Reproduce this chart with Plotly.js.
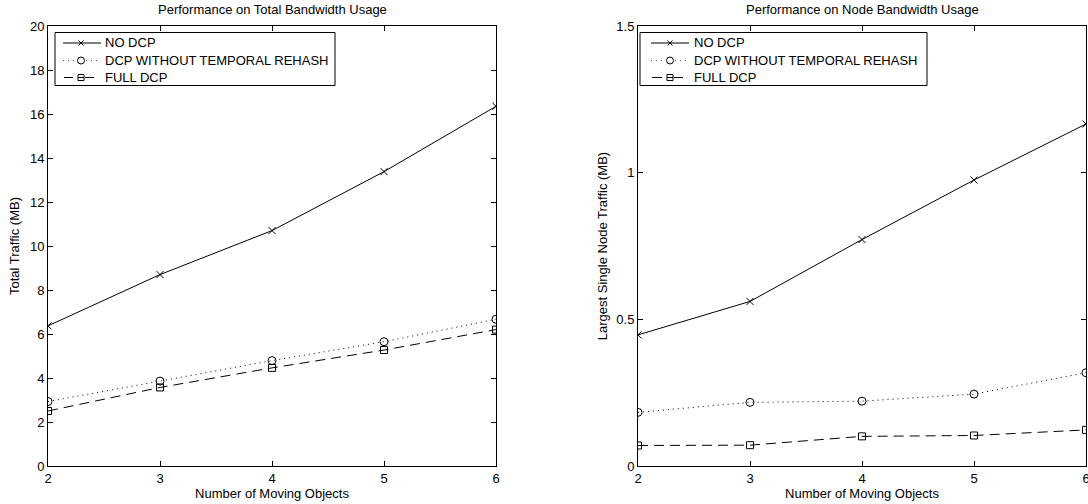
<!DOCTYPE html>
<html>
<head>
<meta charset="utf-8">
<script src="https://cdn.plot.ly/plotly-3.0.1.min.js"></script>
<style>html,body{margin:0;padding:0;background:#fff;}#chart{width:1088px;height:504px;}</style>
</head>
<body>
<div id="chart"></div>
<script>
const objects = [2, 3, 4, 5, 6];
const seriesNames = ["NO DCP", "DCP WITHOUT TEMPORAL REHASH", "FULL DCP"];
// Left: Total Traffic (MB)
const totalNoDcp = [6.37, 8.7, 10.7, 13.38, 16.35];
const totalNoRehash = [2.93, 3.86, 4.79, 5.65, 6.67];
const totalFullDcp = [2.5, 3.57, 4.46, 5.27, 6.2];
// Right: Largest Single Node Traffic (MB)
const nodeNoDcp = [0.447, 0.561, 0.772, 0.975, 1.166];
const nodeNoRehash = [0.183, 0.217, 0.221, 0.245, 0.318];
const nodeFullDcp = [0.070, 0.071, 0.101, 0.104, 0.123];
const leftTicks = [0, 2, 4, 6, 8, 10, 12, 14, 16, 18, 20];
const rightTicks = [0, 0.5, 1, 1.5];

const FONT = "Liberation Sans, Arial, Helvetica, sans-serif";
const FS = 13;
const W = 1088, H = 504, MT = 26, MB = 38;
const PH = H - MT - MB; // plot area height in px
const px = v => v / W;                 // pixel x -> paper x
const py = v => 1 - (v - MT) / PH;     // pixel y -> paper y
const styles = [
  {dash: "solid", symbol: "x-thin-open", size: 7},
  {dash: "1px,4px", symbol: "circle-open", size: 8},
  {dash: "10px,6px", symbol: "square-open", size: 7}
];
function mk(y, i, xa, ya) {
  return {
    x: objects, y: y, name: seriesNames[i], type: "scatter", mode: "lines+markers",
    xaxis: xa, yaxis: ya, showlegend: false,
    line: {color: "#000", width: 1, dash: styles[i].dash},
    marker: {symbol: styles[i].symbol, size: styles[i].size, color: "#000", line: {color: "#000", width: 1}}
  };
}
const data = [
  mk(totalNoDcp, 0, "x", "y"),
  mk(totalNoRehash, 1, "x", "y"),
  mk(totalFullDcp, 2, "x", "y"),
  mk(nodeNoDcp, 0, "x2", "y2"),
  mk(nodeNoRehash, 1, "x2", "y2"),
  mk(nodeFullDcp, 2, "x2", "y2")
];
const tf = {family: FONT, size: FS, color: "#000"};
const axBase = {
  showgrid: false, zeroline: false, showline: true, linecolor: "#000", linewidth: 1,
  mirror: "ticks", ticks: "inside", ticklen: 5, tickcolor: "#000", tickwidth: 1,
  ticklabeloverflow: "allow", tickfont: tf
};

// Hand-drawn legend boxes (MATLAB style)
const shapes = [];
const annotations = [];
function legendBox(left, right, top, bottom, lineX0, lineX1, markX, textX) {
  shapes.push({type: "rect", xref: "paper", yref: "paper", x0: px(left), x1: px(right), y0: py(bottom), y1: py(top),
    line: {color: "#000", width: 1}, fillcolor: "#fff", layer: "above"});
  const rows = [43, 60.5, 77.5];
  rows.forEach((ry, i) => {
    const yy = py(ry);
    if (i === 0) {
      shapes.push({type: "line", xref: "paper", yref: "paper", x0: px(lineX0), x1: px(lineX1), y0: yy, y1: yy,
        line: {color: "#000", width: 1}, layer: "above"});
      const d = 2.5;
      shapes.push({type: "path", xref: "paper", yref: "paper", layer: "above", line: {color: "#000", width: 1},
        path: `M ${px(markX - d)} ${py(ry - d)} L ${px(markX + d)} ${py(ry + d)} M ${px(markX - d)} ${py(ry + d)} L ${px(markX + d)} ${py(ry - d)}`});
    } else if (i === 1) {
      shapes.push({type: "line", xref: "paper", yref: "paper", x0: px(lineX0), x1: px(markX - 4), y0: yy, y1: yy,
        line: {color: "#555", width: 1, dash: "1px,4px"}, layer: "above"});
      shapes.push({type: "line", xref: "paper", yref: "paper", x0: px(markX + 5), x1: px(lineX1), y0: yy, y1: yy,
        line: {color: "#555", width: 1, dash: "1px,4px"}, layer: "above"});
      shapes.push({type: "circle", xref: "paper", yref: "paper", x0: px(markX - 3.5), x1: px(markX + 3.5),
        y0: py(ry + 3.5), y1: py(ry - 3.5), line: {color: "#000", width: 1}, fillcolor: "rgba(0,0,0,0)", layer: "above"});
    } else {
      shapes.push({type: "line", xref: "paper", yref: "paper", x0: px(lineX0 + 1), x1: px(markX - 8), y0: yy, y1: yy,
        line: {color: "#000", width: 1}, layer: "above"});
      shapes.push({type: "line", xref: "paper", yref: "paper", x0: px(markX + 4), x1: px(markX + 13), y0: yy, y1: yy,
        line: {color: "#000", width: 1}, layer: "above"});
      shapes.push({type: "rect", xref: "paper", yref: "paper", x0: px(markX - 3), x1: px(markX + 3),
        y0: py(ry + 3), y1: py(ry - 3), line: {color: "#000", width: 1}, fillcolor: "rgba(0,0,0,0)", layer: "above"});
      shapes.push({type: "line", xref: "paper", yref: "paper", x0: px(markX - 3), x1: px(markX + 3), y0: yy, y1: yy,
        line: {color: "#000", width: 1}, layer: "above"});
    }
    annotations.push({text: seriesNames[i], xref: "paper", yref: "paper", x: px(textX), y: yy,
      xanchor: "left", yanchor: "middle", showarrow: false, font: tf, xshift: -2});
  });
}
legendBox(55, 335, 32.5, 85.5, 63, 101, 81, 105);
legendBox(640, 927, 32.5, 85.5, 651, 689, 670, 694);

annotations.push(
  {text: "Performance on Total Bandwidth Usage", xref: "paper", yref: "paper", x: px(272), y: py(10),
   xanchor: "center", yanchor: "middle", showarrow: false, font: tf},
  {text: "Performance on Node Bandwidth Usage", xref: "paper", yref: "paper", x: px(862), y: py(10),
   xanchor: "center", yanchor: "middle", showarrow: false, font: tf}
);

const layout = {
  width: W, height: H,
  margin: {l: 0, r: 0, t: MT, b: MB},
  paper_bgcolor: "#fff", plot_bgcolor: "#fff",
  showlegend: false,
  xaxis: Object.assign({}, axBase, {domain: [48/W, 496/W], range: [2, 6], tickvals: objects,
    title: {text: "Number of Moving Objects", font: tf, standoff: 0}}),
  yaxis: Object.assign({}, axBase, {domain: [0, 1], range: [0, 20], tickvals: leftTicks,
    title: {text: "Total Traffic (MB)", font: tf, standoff: 7}}),
  xaxis2: Object.assign({}, axBase, {domain: [638/W, 1086/W], range: [2, 6], tickvals: objects, anchor: "y2",
    title: {text: "Number of Moving Objects", font: tf, standoff: 0}}),
  yaxis2: Object.assign({}, axBase, {domain: [0, 1], range: [0, 1.5], tickvals: rightTicks, anchor: "x2",
    title: {text: "Largest Single Node Traffic (MB)", font: tf, standoff: 5}}),
  shapes: shapes,
  annotations: annotations
};
Plotly.newPlot("chart", data, layout, {displayModeBar: false, staticPlot: true});
</script>
</body>
</html>
